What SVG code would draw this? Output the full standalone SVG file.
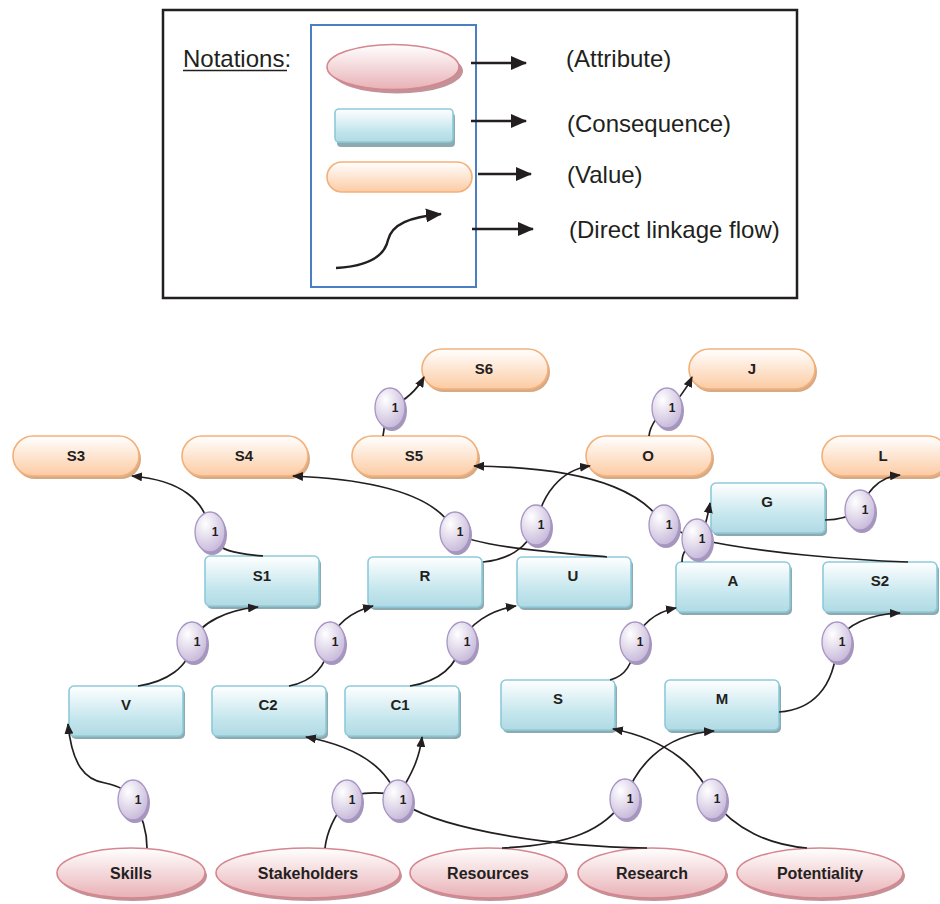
<svg xmlns="http://www.w3.org/2000/svg" width="940" height="904" viewBox="0 0 940 904">
<defs>
<linearGradient id="valG" x1="0" y1="0" x2="0" y2="1"><stop offset="0" stop-color="#ffffff"/><stop offset="1" stop-color="#fccba3"/></linearGradient>
<linearGradient id="conG" x1="0" y1="0" x2="0" y2="1"><stop offset="0" stop-color="#ffffff"/><stop offset="0.65" stop-color="#c4e6ed"/><stop offset="1" stop-color="#b1dae4"/></linearGradient>
<linearGradient id="attG" x1="0" y1="0" x2="0" y2="1"><stop offset="0" stop-color="#ffffff"/><stop offset="1" stop-color="#e8b1b6"/></linearGradient>
<radialGradient id="badG" cx="0.35" cy="0.3" r="0.8"><stop offset="0" stop-color="#ffffff"/><stop offset="1" stop-color="#c2b2d6"/></radialGradient>
<marker id="ah" markerUnits="userSpaceOnUse" markerWidth="11" markerHeight="9" refX="10" refY="4.5" orient="auto"><path d="M0,0 L11,4.5 L0,9 z" fill="#231f20"/></marker>
<marker id="bh" markerUnits="userSpaceOnUse" markerWidth="16" markerHeight="14" refX="15" refY="7" orient="auto"><path d="M0,0 L16,7 L0,14 z" fill="#231f20"/></marker>
<style>
.val{fill:url(#valG);stroke:#f3b079;stroke-width:1.6}
.valS{fill:#d7aa86}
.con{fill:url(#conG);stroke:#8dcada;stroke-width:1.6}
.conS{fill:#8eaab1}
.att{fill:url(#attG);stroke:#d5868e;stroke-width:1.6}
.attS{fill:#c39298}
.bad{fill:url(#badG);stroke:#a795c5;stroke-width:1.3}
.badS{fill:#a597bb}
.lbl{font-family:"Liberation Sans",Arial,sans-serif;font-weight:bold;font-size:15px;fill:#231f20;text-anchor:middle}
.albl{font-family:"Liberation Sans",Arial,sans-serif;font-weight:bold;font-size:16px;fill:#231f20;text-anchor:middle}
.one{font-family:"Liberation Sans",Arial,sans-serif;font-weight:bold;font-size:12px;fill:#231f20;text-anchor:middle}
.leg{font-family:"Liberation Sans",Arial,sans-serif;font-size:24px;fill:#231f20}
.cn{fill:none;stroke:#231f20;stroke-width:1.7}
.lg{fill:none;stroke:#231f20;stroke-width:2.4}
</style>
</defs>
<rect width="940" height="904" fill="#ffffff"/>

<g id="legend">
<rect x="163" y="10" width="634" height="288" fill="none" stroke="#231f20" stroke-width="2.5"/>
<rect x="311" y="25" width="165" height="262" fill="none" stroke="#4a7fc1" stroke-width="2"/>
<text class="leg" x="183" y="67">Notations:</text>
<line x1="183" y1="70.5" x2="287" y2="70.5" stroke="#231f20" stroke-width="1.6"/>
<ellipse cx="397" cy="71" rx="66" ry="22.5" class="attS"/>
<ellipse cx="393" cy="67" rx="66" ry="22.5" class="att"/>
<rect x="337" y="113" width="118" height="34" rx="4" class="conS"/>
<rect x="335" y="109" width="118" height="33" rx="4" class="con"/>
<rect x="327" y="162" width="145" height="30" rx="15" class="val"/>
<path class="lg" d="M336,268 C372,266 385,254 388,240 C392,224 410,217 441,214" marker-end="url(#bh)"/>
<path class="lg" d="M471,63 L526,63" marker-end="url(#bh)"/>
<path class="lg" d="M471,121 L526,121" marker-end="url(#bh)"/>
<path class="lg" d="M478,174 L531,174" marker-end="url(#bh)"/>
<path class="lg" d="M472,229 L533,229" marker-end="url(#bh)"/>
<text class="leg" x="566" y="67">(Attribute)</text>
<text class="leg" x="567" y="132">(Consequence)</text>
<text class="leg" x="567" y="183">(Value)</text>
<text class="leg" x="569" y="238">(Direct linkage flow)</text>
</g>

<g id="n-S3"><rect x="15" y="439" width="126" height="40" rx="20" class="valS"/><rect x="13" y="436" width="126" height="40" rx="20" class="val"/><text class="lbl" x="76" y="461">S3</text></g>
<g id="n-S4"><rect x="184" y="439" width="126" height="40" rx="20" class="valS"/><rect x="182" y="436" width="126" height="40" rx="20" class="val"/><text class="lbl" x="244" y="461">S4</text></g>
<g id="n-S5"><rect x="354" y="439" width="126" height="40" rx="20" class="valS"/><rect x="352" y="436" width="126" height="40" rx="20" class="val"/><text class="lbl" x="414" y="461">S5</text></g>
<g id="n-S6"><rect x="424" y="352" width="126" height="40" rx="20" class="valS"/><rect x="422" y="349" width="126" height="40" rx="20" class="val"/><text class="lbl" x="484" y="374">S6</text></g>
<g id="n-J"><rect x="691" y="352" width="126" height="40" rx="20" class="valS"/><rect x="689" y="349" width="126" height="40" rx="20" class="val"/><text class="lbl" x="752" y="374">J</text></g>
<g id="n-O"><rect x="588" y="439" width="126" height="40" rx="20" class="valS"/><rect x="586" y="436" width="126" height="40" rx="20" class="val"/><text class="lbl" x="648" y="461">O</text></g>
<g id="n-L"><rect x="824" y="439" width="126" height="40" rx="20" class="valS"/><rect x="822" y="436" width="126" height="40" rx="20" class="val"/><text class="lbl" x="883" y="461">L</text></g>

<g id="n-G"><rect x="713" y="486" width="114" height="50" rx="5" class="conS"/><rect x="711" y="483" width="114" height="50" rx="5" class="con"/><text class="lbl" x="767" y="507">G</text></g>
<g id="n-S1"><rect x="207" y="559" width="114" height="50" rx="5" class="conS"/><rect x="205" y="556" width="114" height="50" rx="5" class="con"/><text class="lbl" x="262" y="581">S1</text></g>
<g id="n-R"><rect x="370" y="560" width="114" height="50" rx="5" class="conS"/><rect x="368" y="557" width="114" height="50" rx="5" class="con"/><text class="lbl" x="425" y="581">R</text></g>
<g id="n-U"><rect x="519" y="560" width="114" height="50" rx="5" class="conS"/><rect x="517" y="557" width="114" height="50" rx="5" class="con"/><text class="lbl" x="573" y="581">U</text></g>
<g id="n-A"><rect x="678" y="565" width="114" height="50" rx="5" class="conS"/><rect x="676" y="562" width="114" height="50" rx="5" class="con"/><text class="lbl" x="733" y="586">A</text></g>
<g id="n-S2"><rect x="825" y="565" width="114" height="50" rx="5" class="conS"/><rect x="823" y="562" width="114" height="50" rx="5" class="con"/><text class="lbl" x="880" y="586">S2</text></g>
<g id="n-V"><rect x="71" y="689" width="114" height="50" rx="5" class="conS"/><rect x="69" y="686" width="114" height="50" rx="5" class="con"/><text class="lbl" x="126" y="710">V</text></g>
<g id="n-C2"><rect x="214" y="689" width="114" height="50" rx="5" class="conS"/><rect x="212" y="686" width="114" height="50" rx="5" class="con"/><text class="lbl" x="268" y="710">C2</text></g>
<g id="n-C1"><rect x="347" y="689" width="114" height="50" rx="5" class="conS"/><rect x="345" y="686" width="114" height="50" rx="5" class="con"/><text class="lbl" x="400" y="710">C1</text></g>
<g id="n-S"><rect x="503" y="683" width="114" height="50" rx="5" class="conS"/><rect x="501" y="680" width="114" height="50" rx="5" class="con"/><text class="lbl" x="558" y="704">S</text></g>
<g id="n-M"><rect x="667" y="683" width="114" height="50" rx="5" class="conS"/><rect x="665" y="680" width="114" height="50" rx="5" class="con"/><text class="lbl" x="722" y="704">M</text></g>

<g id="n-Skills"><ellipse cx="133" cy="876" rx="74" ry="25" class="attS"/><ellipse cx="131" cy="873" rx="74" ry="25" class="att"/><text class="albl" x="131" y="879">Skills</text></g>
<g id="n-Stakeholders"><ellipse cx="310" cy="876" rx="92" ry="25" class="attS"/><ellipse cx="308" cy="873" rx="92" ry="25" class="att"/><text class="albl" x="308" y="879">Stakeholders</text></g>
<g id="n-Resources"><ellipse cx="490" cy="876" rx="78" ry="25" class="attS"/><ellipse cx="488" cy="873" rx="78" ry="25" class="att"/><text class="albl" x="488" y="879">Resources</text></g>
<g id="n-Research"><ellipse cx="654" cy="876" rx="74" ry="25" class="attS"/><ellipse cx="652" cy="873" rx="74" ry="25" class="att"/><text class="albl" x="652" y="879">Research</text></g>
<g id="n-Potentiality"><ellipse cx="822" cy="876" rx="83" ry="25" class="attS"/><ellipse cx="820" cy="873" rx="83" ry="25" class="att"/><text class="albl" x="820" y="879">Potentiality</text></g>

<g id="connectors">
<path class="cn" d="M263,556 C240,554 214,552 210,532 C206,500 180,480 132,476" marker-end="url(#ah)"/>
<path class="cn" d="M607,557 C550,552 470,546 455,532 C440,500 390,480 293,476" marker-end="url(#ah)"/>
<path class="cn" d="M383,436 C384,428 386,415 390,408 C402,402 416,392 424,377" marker-end="url(#ah)"/>
<path class="cn" d="M649,436 C650,425 660,412 667,408 C676,402 685,392 692,377" marker-end="url(#ah)"/>
<path class="cn" d="M483,562 C505,560 528,550 536,525 C542,495 560,470 590,466" marker-end="url(#ah)"/>
<path class="cn" d="M908,562 C850,560 760,553 697,539 L664,525 C648,500 610,468 474,466" marker-end="url(#ah)"/>
<path class="cn" d="M682,562 C682,550 690,545 697,539 C704,532 707,520 710,503" marker-end="url(#ah)"/>
<path class="cn" d="M825,520 C835,520 848,518 860,510 C866,495 876,477 900,475" marker-end="url(#ah)"/>
<path class="cn" d="M138,686 C165,682 190,668 192,642 C200,622 228,610 258,607" marker-end="url(#ah)"/>
<path class="cn" d="M289,686 C310,682 326,670 330,642 C335,625 350,612 373,606" marker-end="url(#ah)"/>
<path class="cn" d="M410,686 C435,682 456,670 462,642 C468,625 490,610 516,606" marker-end="url(#ah)"/>
<path class="cn" d="M610,680 C625,676 633,665 635,642 C640,625 655,612 676,608" marker-end="url(#ah)"/>
<path class="cn" d="M779,712 C810,710 835,690 837,642 C845,625 870,614 900,613" marker-end="url(#ah)"/>
<path class="cn" d="M147,848 C147,830 142,815 133,800 C128,790 115,785 105,783 C85,780 72,765 68,724" marker-end="url(#ah)"/>
<path class="cn" d="M325,848 C327,830 335,815 347,800"/>
<path class="cn" d="M355,795 C368,792 380,792 398,795"/>
<path class="cn" d="M398,800 C392,780 375,750 306,737" marker-end="url(#ah)"/>
<path class="cn" d="M398,800 C402,785 418,770 422,737" marker-end="url(#ah)"/>
<path class="cn" d="M398,800 C430,825 530,846 647,848"/>
<path class="cn" d="M502,848 C570,845 605,830 625,799 C635,770 660,735 714,731" marker-end="url(#ah)"/>
<path class="cn" d="M807,848 C770,845 735,830 712,799 C700,770 670,740 613,729" marker-end="url(#ah)"/>
</g>

<g id="badges">
<g id="b1"><ellipse cx="212" cy="535" rx="15" ry="20" class="badS"/><ellipse cx="210" cy="532" rx="15" ry="20" class="bad"/><text class="one" x="215" y="536">1</text></g>
<g id="b2"><ellipse cx="457" cy="535" rx="15" ry="20" class="badS"/><ellipse cx="455" cy="532" rx="15" ry="20" class="bad"/><text class="one" x="460" y="536">1</text></g>
<g id="b3"><ellipse cx="392" cy="411" rx="15" ry="20" class="badS"/><ellipse cx="390" cy="408" rx="15" ry="20" class="bad"/><text class="one" x="395" y="412">1</text></g>
<g id="b4"><ellipse cx="669" cy="411" rx="15" ry="20" class="badS"/><ellipse cx="667" cy="408" rx="15" ry="20" class="bad"/><text class="one" x="672" y="412">1</text></g>
<g id="b5"><ellipse cx="538" cy="528" rx="15" ry="20" class="badS"/><ellipse cx="536" cy="525" rx="15" ry="20" class="bad"/><text class="one" x="541" y="529">1</text></g>
<g id="b6"><ellipse cx="666" cy="528" rx="15" ry="20" class="badS"/><ellipse cx="664" cy="525" rx="15" ry="20" class="bad"/><text class="one" x="669" y="529">1</text></g>
<g id="b7"><ellipse cx="699" cy="542" rx="15" ry="20" class="badS"/><ellipse cx="697" cy="539" rx="15" ry="20" class="bad"/><text class="one" x="702" y="543">1</text></g>
<g id="b8"><ellipse cx="862" cy="513" rx="15" ry="20" class="badS"/><ellipse cx="860" cy="510" rx="15" ry="20" class="bad"/><text class="one" x="865" y="514">1</text></g>
<g id="b9"><ellipse cx="194" cy="645" rx="15" ry="20" class="badS"/><ellipse cx="192" cy="642" rx="15" ry="20" class="bad"/><text class="one" x="197" y="646">1</text></g>
<g id="b10"><ellipse cx="332" cy="645" rx="15" ry="20" class="badS"/><ellipse cx="330" cy="642" rx="15" ry="20" class="bad"/><text class="one" x="335" y="646">1</text></g>
<g id="b11"><ellipse cx="464" cy="645" rx="15" ry="20" class="badS"/><ellipse cx="462" cy="642" rx="15" ry="20" class="bad"/><text class="one" x="467" y="646">1</text></g>
<g id="b12"><ellipse cx="637" cy="645" rx="15" ry="20" class="badS"/><ellipse cx="635" cy="642" rx="15" ry="20" class="bad"/><text class="one" x="640" y="646">1</text></g>
<g id="b13"><ellipse cx="839" cy="645" rx="15" ry="20" class="badS"/><ellipse cx="837" cy="642" rx="15" ry="20" class="bad"/><text class="one" x="842" y="646">1</text></g>
<g id="b14"><ellipse cx="135" cy="803" rx="15" ry="20" class="badS"/><ellipse cx="133" cy="800" rx="15" ry="20" class="bad"/><text class="one" x="138" y="804">1</text></g>
<g id="b15"><ellipse cx="349" cy="803" rx="15" ry="20" class="badS"/><ellipse cx="347" cy="800" rx="15" ry="20" class="bad"/><text class="one" x="352" y="804">1</text></g>
<g id="b16"><ellipse cx="400" cy="803" rx="15" ry="20" class="badS"/><ellipse cx="398" cy="800" rx="15" ry="20" class="bad"/><text class="one" x="403" y="804">1</text></g>
<g id="b17"><ellipse cx="627" cy="802" rx="15" ry="20" class="badS"/><ellipse cx="625" cy="799" rx="15" ry="20" class="bad"/><text class="one" x="630" y="803">1</text></g>
<g id="b18"><ellipse cx="714" cy="802" rx="15" ry="20" class="badS"/><ellipse cx="712" cy="799" rx="15" ry="20" class="bad"/><text class="one" x="717" y="803">1</text></g>
</g>
</svg>
